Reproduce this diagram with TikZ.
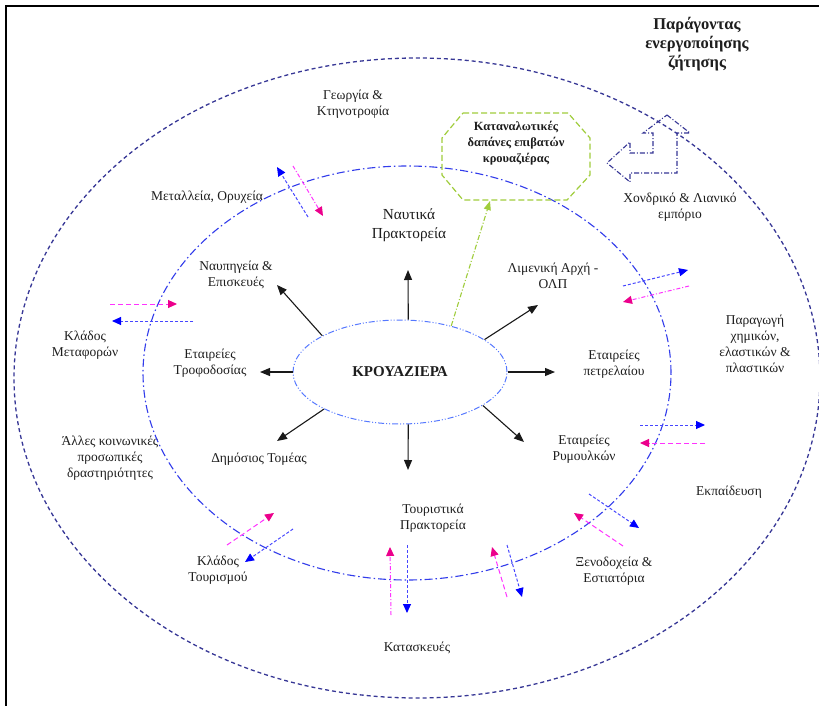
\documentclass[tikz,border=0pt]{standalone}
\usepackage{fontspec}
\setmainfont{Liberation Serif}
\usetikzlibrary{arrows.meta,shapes.geometric}
\definecolor{navyd}{RGB}{55,55,150}
\definecolor{innerb}{RGB}{50,60,235}
\definecolor{centerb}{RGB}{85,120,255}
\definecolor{bluel}{RGB}{70,70,255}
\definecolor{magl}{RGB}{255,50,255}
\definecolor{greenl}{RGB}{160,205,60}
\definecolor{txt}{RGB}{30,30,30}
\definecolor{arrg}{RGB}{25,25,25}
\begin{document}
\begin{tikzpicture}[x=1pt,y=-1pt,
  lbl/.style={align=center,font=\fontsize{13.5}{16}\selectfont,text=txt,inner sep=0pt},
  biglbl/.style={align=center,font=\fontsize{15.3}{19}\selectfont,text=txt,inner sep=0pt},
  blk/.style={draw=arrg,line width=1.1pt,-{Triangle[length=10pt,width=8pt]}},
  bluearr/.style={draw=bluel,line width=1pt,dash pattern=on 3pt off 2pt,-{Triangle[length=9pt,width=8pt,color=blue]}},
  magdash/.style={draw=magl,line width=1pt,dash pattern=on 5pt off 3pt,-{Triangle[length=9pt,width=8pt,color=magenta]}},
  magdd/.style={draw=magl,line width=1pt,dash pattern=on 4pt off 2pt on 1pt off 2pt,-{Triangle[length=9pt,width=8pt,color=magenta]}}
]
\useasboundingbox (0,0) rectangle (819,706);
\fill[white] (0,0) rectangle (819,706);
% frame
\draw[line width=1.4pt,black] (6,706) -- (6,6) -- (819,6);

% labels
\node[lbl] (geo) at (353,104) {Γεωργία \&\\Κτηνοτροφία};
\node[lbl] (metal) at (207,197) {Μεταλλεία, Ορυχεία};
\node[biglbl] (naut) at (409,225) {Ναυτικά\\Πρακτορεία};
\node[lbl] (ship) at (236,275) {Ναυπηγεία \&\\Επισκευές};
\node[lbl] (port) at (553,276) {Λιμενική Αρχή -\\ΟΛΠ};
\node[lbl] (supply) at (210,363) {Εταιρείες\\Τροφοδοσίας};
\node[lbl] (oil) at (614,364) {Εταιρείες\\πετρελαίου};
\node[lbl] (public) at (259,459) {Δημόσιος Τομέας};
\node[lbl] (tug) at (584,449) {Εταιρείες\\Ρυμουλκών};
\node[lbl] (tour) at (433,518) {Τουριστικά\\Πρακτορεία};
\node[lbl] (constr) at (417,648) {Κατασκευές};
\node[lbl] (hotel) at (614,571) {Ξενοδοχεία \&\\Εστιατόρια};
\node[lbl] (edu) at (729,492) {Εκπαίδευση};
\node[lbl] (chem) at (755,344) {Παραγωγή\\χημικών,\\ελαστικών \&\\πλαστικών};
\node[lbl] (transp) at (85,345) {Κλάδος\\Μεταφορών};
\node[lbl] (other) at (110,458) {Άλλες κοινωνικές\\προσωπικές\\δραστηριότητες};
\node[lbl] (tourism) at (218,570) {Κλάδος\\Τουρισμού};
\node[lbl] (retail) at (680,207) {Χονδρικό \& Λιανικό\\εμπόριο};
\node[align=center,font=\bfseries\fontsize{16.5}{19}\selectfont,text=txt,inner sep=0pt] (title) at (697,44) {Παράγοντας\\ενεργοποίησης\\ζήτησης};

% outer and inner ellipses
\draw[navyd,line width=1.3pt,dash pattern=on 4pt off 3pt] (417,378) ellipse [x radius=403pt,y radius=320pt];
\draw[innerb,line width=1.1pt,dash pattern=on 8pt off 3pt on 1.5pt off 3pt] (407,373) ellipse [x radius=264pt,y radius=207pt];

% central ellipse
\node[ellipse,draw=centerb,line width=1pt,dash pattern=on 6pt off 2pt on 1pt off 2pt on 1pt off 2pt,
  minimum width=214pt,minimum height=104pt,inner sep=0pt,
  font=\bfseries\fontsize{15}{18}\selectfont,text=txt] (cruise) at (400,372) {ΚΡΟΥΑΖΙΕΡΑ};

% octagon
\draw[greenl,line width=1.2pt,dash pattern=on 6pt off 3pt]
  (463,113) -- (568,113) -- (590,138) -- (590,175) -- (567,200) -- (463,200) -- (442,175) -- (442,138) -- cycle;
\node[align=center,font=\bfseries\fontsize{12.5}{16}\selectfont,text=txt,inner sep=0pt] (spend) at (516,143) {Καταναλωτικές\\δαπάνες επιβατών\\κρουαζιέρας};
\coordinate (spendbot) at (490,201);
\draw[greenl,line width=1.1pt,dash pattern=on 5pt off 2pt on 1pt off 2pt,-{Triangle[length=9pt,width=7pt]}] (cruise.42) -- (spendbot);

% bent arrow icon
\draw[navyd,line width=1.1pt,dash pattern=on 5pt off 2pt on 1pt off 2pt]
  (667,115) -- (690,133) -- (677,133) -- (677,173) -- (630,173) -- (630,182) -- (607,163) -- (630,142) -- (630,153) -- (653,153) -- (653,133) -- (643,133) -- cycle;

% black arrows
\coordinate (eUp) at (408,270);
\coordinate (eUL) at (277,285);
\coordinate (eL) at (260,372);
\coordinate (eDL) at (277,441);
\coordinate (eD) at (408,470);
\coordinate (eDR) at (524,442);
\coordinate (eR) at (555,372);
\coordinate (eUR) at (538,305);
\draw[blk] (cruise.81) -- (eUp);
\draw[blk] (cruise.155) -- (eUL);
\draw[blk] (cruise.180) -- (eL);
\draw[blk] (cruise.206) -- (eDL);
\draw[blk] (cruise.279) -- (eD);
\draw[blk] (cruise.338) -- (eDR);
\draw[blk] (cruise.0) -- (eR);
\draw[blk] (cruise.21) -- (eUR);

% coloured exchange arrows
\coordinate (b1s) at (308,217); \coordinate (b1e) at (277,167);
\coordinate (m1s) at (293,166); \coordinate (m1e) at (323,216);
\draw[bluearr] (b1s) -- (b1e);
\draw[magdd] (m1s) -- (m1e);

\coordinate (m2s) at (110,304); \coordinate (m2e) at (177,304);
\coordinate (b2s) at (193,321); \coordinate (b2e) at (112,321);
\draw[magdash] (m2s) -- (m2e);
\draw[bluearr] (b2s) -- (b2e);

\coordinate (b3s) at (623,286); \coordinate (b3e) at (688,270);
\coordinate (m3s) at (689,286); \coordinate (m3e) at (623,302);
\draw[bluearr] (b3s) -- (b3e);
\draw[magdd] (m3s) -- (m3e);

\coordinate (b4s) at (640,425); \coordinate (b4e) at (705,425);
\coordinate (m4s) at (705,443); \coordinate (m4e) at (640,443);
\draw[bluearr] (b4s) -- (b4e);
\draw[magdash] (m4s) -- (m4e);

\coordinate (b5s) at (589,494); \coordinate (b5e) at (639,528);
\coordinate (m5s) at (623,546); \coordinate (m5e) at (574,513);
\draw[bluearr] (b5s) -- (b5e);
\draw[magdash] (m5s) -- (m5e);

\coordinate (m6s) at (507,597); \coordinate (m6e) at (492,547);
\coordinate (b6s) at (507,545); \coordinate (b6e) at (522,597);
\draw[magdash] (m6s) -- (m6e);
\draw[bluearr] (b6s) -- (b6e);

\coordinate (m7s) at (391,615); \coordinate (m7e) at (390,547);
\coordinate (b7s) at (407,545); \coordinate (b7e) at (407,613);
\draw[magdd] (m7s) -- (m7e);
\draw[bluearr] (b7s) -- (b7e);

\coordinate (m8s) at (227,545); \coordinate (m8e) at (274,513);
\coordinate (b8s) at (293,529); \coordinate (b8e) at (245,562);
\draw[magdash] (m8s) -- (m8e);
\draw[bluearr] (b8s) -- (b8e);
\end{tikzpicture}
\end{document}
